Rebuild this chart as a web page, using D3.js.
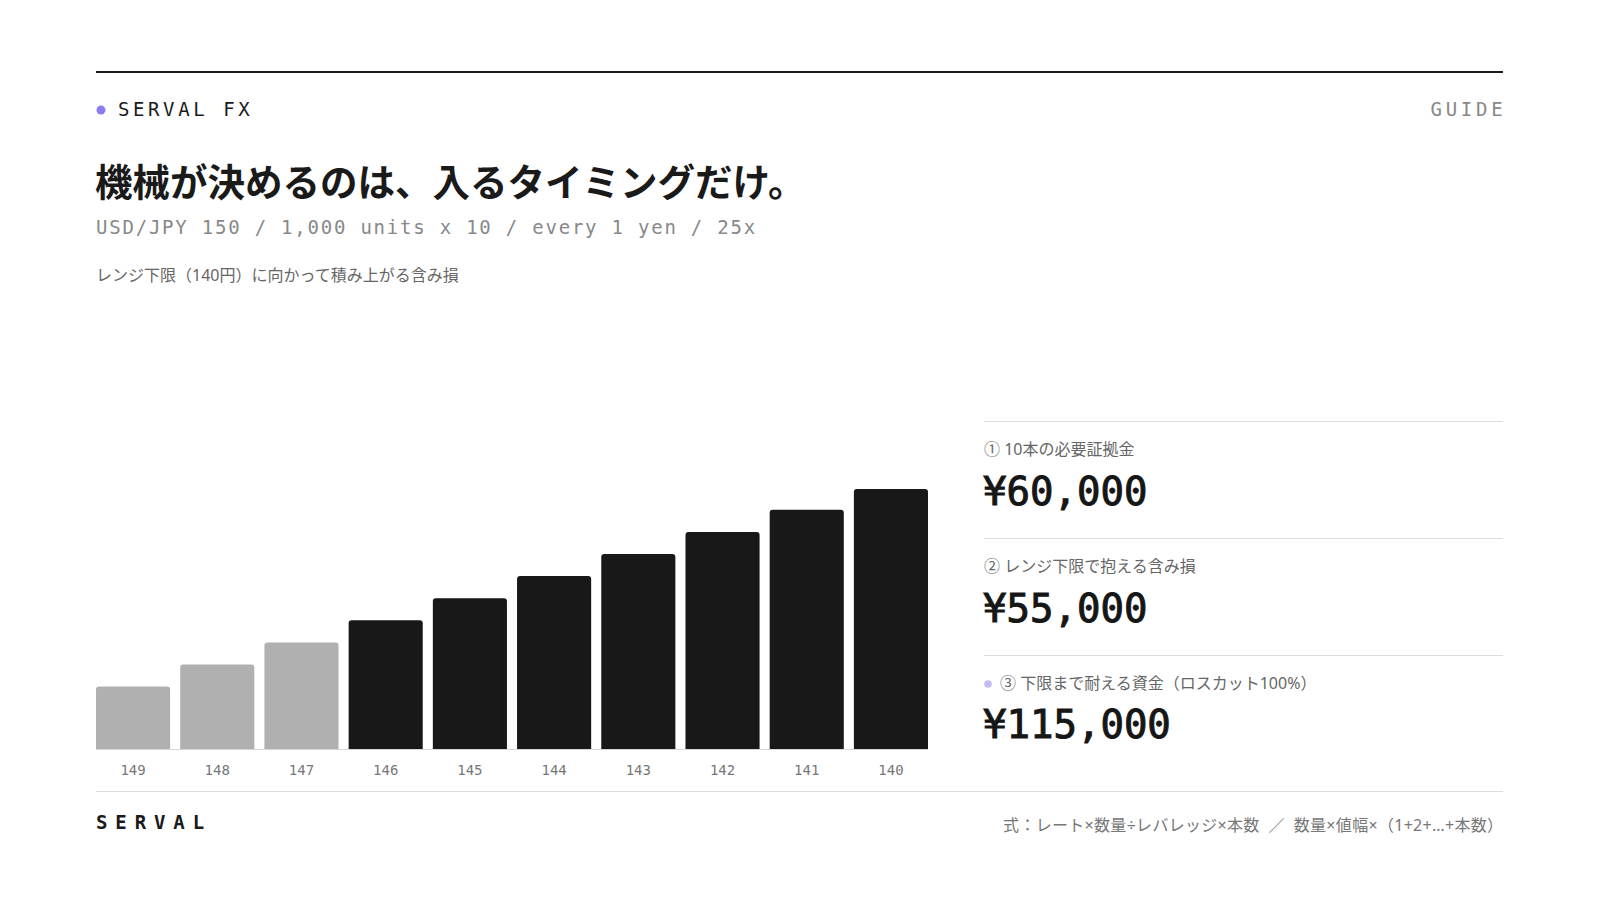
<!DOCTYPE html>
<html><head><meta charset="utf-8">
<script src="https://cdn.jsdelivr.net/npm/d3@7"></script>
<style>
html,body{margin:0;padding:0;background:#fff;}
svg{display:block;}
</style></head>
<body>
<script>
// ---- data ----
const priceLevels = ["149","148","147","146","145","144","143","142","141","140"];
const lossValues = [2.4, 3.25, 4.1, 4.95, 5.8, 6.65, 7.5, 8.35, 9.2, 10];
const highlightFrom = 3; // bars from 146 onwards are dark
const statLabels = ["① 10本の必要証拠金", "② レンジ下限で抱える含み損", "③ 下限まで耐える資金（ロスカット100%）"];
const statValues = ["¥60,000", "¥55,000", "¥115,000"];

const W = 1600, H = 900;
const L = 96, R = 1503;
const mono = "'DejaVu Sans Mono', monospace";
const jp = "'Noto Sans', 'Noto Sans CJK JP', sans-serif";
const jpBold = "'Noto Sans CJK JP', 'Noto Sans', sans-serif";

const svg = d3.select("body").append("svg").attr("width", W).attr("height", H);

// top rule
svg.append("line").attr("x1", L).attr("x2", R).attr("y1", 72).attr("y2", 72)
  .attr("stroke", "#1a1a1a").attr("stroke-width", 2);

// brand
svg.append("circle").attr("cx", 101).attr("cy", 110).attr("r", 4.5).attr("fill", "#8b7cf3");
svg.append("text").attr("x", 118).attr("y", 116).text("SERVAL FX")
  .attr("font-family", mono).attr("font-size", 19).attr("letter-spacing", 3.6).attr("fill", "#1a1a1a");
svg.append("text").attr("x", R + 3.6).attr("y", 116).attr("text-anchor", "end").text("GUIDE")
  .attr("font-family", mono).attr("font-size", 19).attr("letter-spacing", 3.8).attr("fill", "#888");

// title
svg.append("text").attr("x", L - 1).attr("y", 196).text("機械が決めるのは、入るタイミングだけ。")
  .attr("font-family", jpBold).attr("font-weight", 700).attr("font-size", 37.5).attr("fill", "#1a1a1a");
svg.append("text").attr("x", L).attr("y", 234).text("USD/JPY 150 / 1,000 units x 10 / every 1 yen / 25x")
  .attr("font-family", mono).attr("font-size", 19).attr("letter-spacing", 1.78).attr("fill", "#888");
svg.append("text").attr("x", L).attr("y", 281).text("レンジ下限（140円）に向かって積み上がる含み損")
  .attr("font-family", jp).attr("font-size", 16).attr("fill", "#666");

// chart
const x = d3.scaleBand().domain(priceLevels).range([96, 928]).paddingInner(0.12).paddingOuter(0);
const y = d3.scaleLinear().domain([0, 10]).range([749, 489]);

const r = 3;
svg.append("g").selectAll("path").data(lossValues).join("path")
  .attr("d", (d, i) => {
    const x0 = x(priceLevels[i]), x1 = x0 + x.bandwidth(), y0 = y(d), yb = y(0);
    return `M${x0},${yb}V${y0 + r}Q${x0},${y0} ${x0 + r},${y0}H${x1 - r}Q${x1},${y0} ${x1},${y0 + r}V${yb}Z`;
  })
  .attr("fill", (d, i) => i < highlightFrom ? "#b0b0b0" : "#181818");

svg.append("line").attr("x1", 96).attr("x2", 928).attr("y1", 749.5).attr("y2", 749.5)
  .attr("stroke", "#d6d6d6").attr("stroke-width", 1);

const xAxis = svg.append("g").attr("transform", "translate(0,749)")
  .call(d3.axisBottom(x).tickSize(0).tickPadding(0));
xAxis.select(".domain").remove();
xAxis.selectAll("text").attr("dy", null).attr("y", 26)
  .attr("font-family", mono).attr("font-size", 14).attr("fill", "#777");

// bottom divider
svg.append("line").attr("x1", L).attr("x2", R).attr("y1", 791.5).attr("y2", 791.5)
  .attr("stroke", "#dcdcdc").attr("stroke-width", 1);

// stats panel
const SX = 984;
const lineYs = [421.5, 538.5, 655.5];
const labelYs = [455, 572, 689];
const valueYs = [505, 622, 738];
lineYs.forEach(v => svg.append("line").attr("x1", SX).attr("x2", R).attr("y1", v).attr("y2", v)
  .attr("stroke", "#dcdcdc").attr("stroke-width", 1));
statLabels.forEach((t, i) => {
  const lx = i === 2 ? SX + 16 : SX;
  if (i === 2) svg.append("circle").attr("cx", SX + 4).attr("cy", labelYs[i] - 5).attr("r", 3.8).attr("fill", "#c4baf6");
  svg.append("text").attr("x", lx).attr("y", labelYs[i]).text(t)
    .attr("font-family", jp).attr("font-size", 16).attr("fill", "#666");
});
statValues.forEach((t, i) => {
  svg.append("text").attr("x", SX - 1).attr("y", valueYs[i]).text(t)
    .attr("font-family", mono).attr("font-weight", 400).attr("font-size", 39)
    .attr("fill", "#161616").attr("stroke", "#161616").attr("stroke-width", 1.0);
});

// footer
svg.append("text").attr("x", L).attr("y", 829).text("SERVAL")
  .attr("font-family", mono).attr("font-weight", 700).attr("font-size", 19).attr("letter-spacing", 7.9).attr("fill", "#1a1a1a");
svg.append("text").attr("x", R + 0.3).attr("y", 831).attr("text-anchor", "end")
  .attr("xml:space", "preserve").style("white-space", "pre")
  .text("式：レート×数量÷レバレッジ×本数  ／  数量×値幅×（1+2+…+本数）")
  .attr("font-family", jp).attr("font-size", 16).attr("letter-spacing", 0.3).attr("fill", "#777");
</script>
</body></html>
